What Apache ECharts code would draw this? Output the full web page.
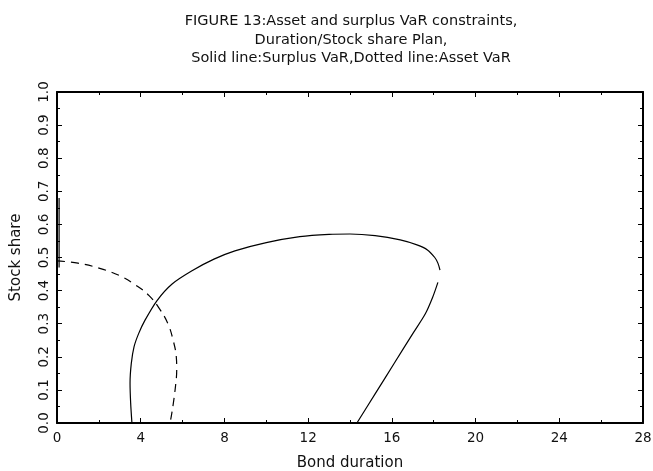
<!DOCTYPE html>
<html>
<head>
<meta charset="utf-8">
<script src="https://cdn.jsdelivr.net/npm/echarts@6/dist/echarts.min.js"></script>
<style>
  html, body { margin: 0; padding: 0; background: #fff; }
  #chart { width: 653px; height: 471px; }
</style>
</head>
<body>
<div id="chart"></div>
<script>
// Surplus VaR (solid line); null = gap in the curve
var surplusX = [3.58, 3.52, 3.49, 3.55, 3.68, 3.9, 4.2, 4.78, 5.5, 6.45, 7.5, 8.5, 10, 11.6, 13, 14, 15.2, 16.4, 17.2, 17.7, 18.05, 18.2, 18.3, null, 18.2, 17.95, 17.6, 17.0, 16.1, 15.2, 14.33];
var surplusY = [0.0, 0.06, 0.12, 0.18, 0.23, 0.27, 0.31, 0.37, 0.42, 0.46, 0.495, 0.52, 0.545, 0.563, 0.570, 0.571, 0.566, 0.553, 0.538, 0.523, 0.50, 0.483, 0.462, null, 0.425, 0.38, 0.33, 0.27, 0.179, 0.088, 0.0];

// short solid branch along duration 0
var surplusEdgeX = [0.1, 0.1];
var surplusEdgeY = [0.47, 0.68];

// Asset VaR (dashed line)
var assetX = [0, 1, 2, 3, 3.8, 4.4, 4.9, 5.3, 5.55, 5.7, 5.72, 5.66, 5.56, 5.46, 5.4];
var assetY = [0.49, 0.483, 0.468, 0.445, 0.415, 0.385, 0.345, 0.30, 0.25, 0.20, 0.16, 0.11, 0.06, 0.02, 0.0];

var xTicks = [0, 4, 8, 12, 16, 20, 24, 28];

function pairs(xs, ys) {
  var out = [];
  for (var i = 0; i < xs.length; i++) {
    out.push(xs[i] === null ? [null, null] : [xs[i], ys[i]]);
  }
  return out;
}

var font = 'DejaVu Sans';
var tickStyle = { inside: true, length: 5, lineStyle: { color: '#000', width: 1 } };
var minorStyle = { show: true, splitNumber: 2, length: 3, lineStyle: { color: '#000', width: 1 } };
var lineStyle = { show: true, onZero: false, lineStyle: { color: '#000', width: 2 } };

var myChart = echarts.init(document.getElementById('chart'));

var option = {
  backgroundColor: '#fff',
  animation: false,
  title: {
    text: 'FIGURE 13:Asset and surplus VaR constraints,\nDuration/Stock share Plan,\nSolid line:Surplus VaR,Dotted line:Asset VaR',
    left: 346,
    top: 7,
    textAlign: 'center',
    textStyle: { fontFamily: font, fontSize: 14.5, fontWeight: 'normal', color: '#111', lineHeight: 18.5 }
  },
  grid: { left: 57, right: 10, top: 92, bottom: 48, outerBoundsMode: 'none', containLabel: false },
  xAxis: [{
    type: 'value', min: 0, max: 28, interval: 4,
    name: 'Bond duration', nameLocation: 'middle', nameGap: 33,
    nameTextStyle: { fontFamily: font, fontSize: 15, color: '#111' },
    axisLine: lineStyle, axisTick: tickStyle, minorTick: minorStyle,
    splitLine: { show: false },
    axisLabel: { fontFamily: font, fontSize: 13.5, color: '#111', margin: 8,
      formatter: function (v) { return xTicks.indexOf(v) >= 0 ? String(v) : ''; } }
  }, {
    type: 'value', min: 0, max: 28, interval: 4, position: 'top',
    axisLine: lineStyle, axisTick: tickStyle, minorTick: minorStyle,
    splitLine: { show: false }, axisLabel: { show: false }
  }],
  yAxis: [{
    type: 'value', min: 0, max: 1, interval: 0.1,
    name: 'Stock share', nameLocation: 'middle', nameGap: 33, nameRotate: 90,
    nameTextStyle: { fontFamily: font, fontSize: 15, color: '#111' },
    axisLine: lineStyle, axisTick: tickStyle, minorTick: minorStyle,
    splitLine: { show: false },
    axisLabel: { fontFamily: font, fontSize: 13.5, color: '#111', rotate: 90, margin: 6,
      formatter: function (v) { return v.toFixed(1); } }
  }, {
    type: 'value', min: 0, max: 1, interval: 0.1, position: 'right',
    axisLine: lineStyle, axisTick: tickStyle, minorTick: minorStyle,
    splitLine: { show: false }, axisLabel: { show: false }
  }],
  series: [{
    name: 'Surplus VaR',
    type: 'line',
    data: pairs(surplusX, surplusY),
    showSymbol: false,
    smooth: 0.3,
    connectNulls: false,
    lineStyle: { color: '#000', width: 1.2, type: 'solid' }
  }, {
    name: 'Surplus VaR edge',
    type: 'line',
    data: pairs(surplusEdgeX, surplusEdgeY),
    showSymbol: false,
    lineStyle: { color: '#000', width: 1.2, type: 'solid' }
  }, {
    name: 'Asset VaR',
    type: 'line',
    data: pairs(assetX, assetY),
    showSymbol: false,
    smooth: 0.4,
    lineStyle: { color: '#000', width: 1.2, type: [8, 6] }
  }]
};

myChart.setOption(option);
</script>
</body>
</html>
